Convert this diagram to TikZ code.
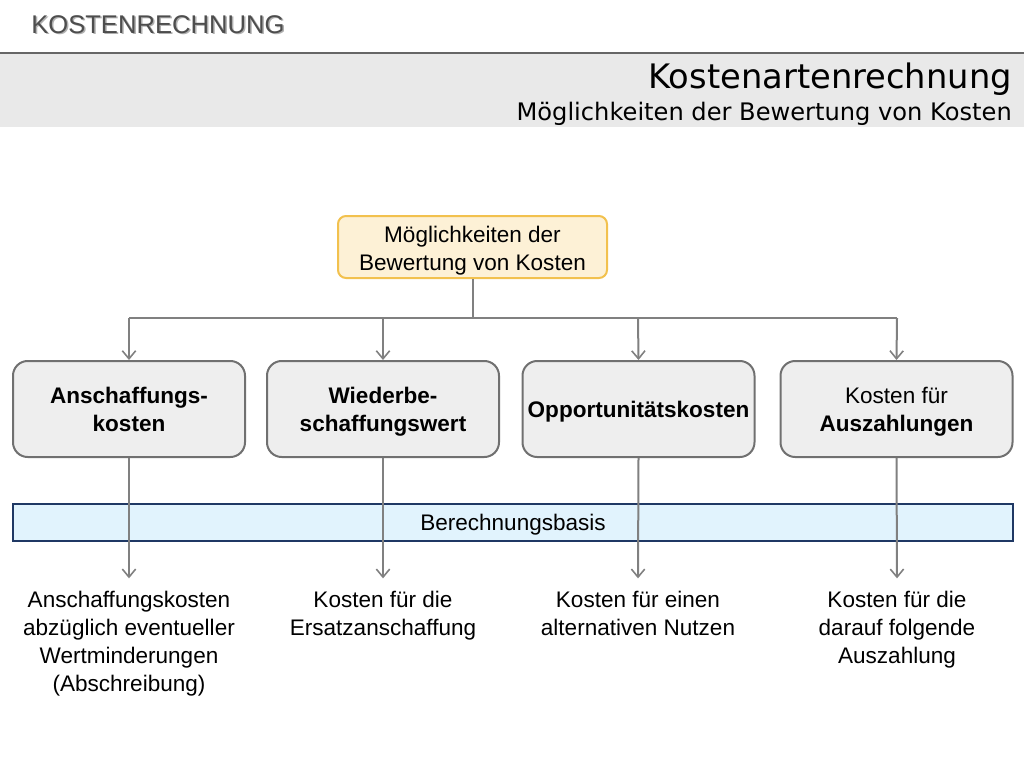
\documentclass[tikz,border=0pt]{standalone}
\usepackage{fontspec}
\setmainfont{Liberation Sans}
\newfontfamily\headfont{DejaVu Sans}
\usetikzlibrary{arrows.meta}
\definecolor{bandgray}{HTML}{E9E9E9}
\definecolor{bandline}{HTML}{666666}
\definecolor{titlegray}{HTML}{4D4D4D}
\definecolor{shadowgray}{HTML}{B0B0B0}
\definecolor{topfill}{HTML}{FDF1D6}
\definecolor{topdraw}{HTML}{F2C14E}
\definecolor{boxfill}{HTML}{EEEEEE}
\definecolor{boxdraw}{HTML}{707070}
\definecolor{barfill}{HTML}{E1F3FD}
\definecolor{bardraw}{HTML}{1F3864}
\definecolor{conn}{HTML}{808080}
\newcommand{\lowcell}[2]{\raisebox{-#1}[\height][\depth]{\begin{tabular}{@{}c@{}}#2\end{tabular}}}
\tikzset{
  txt/.style={font=\fontsize{16.9}{21}\selectfont, align=center, inner sep=0pt},
  topbox/.style={txt, draw=topdraw, fill=topfill, line width=1.5pt, rounded corners=6pt,
    minimum width=201.75pt, minimum height=46.5pt},
  catbox/.style={txt, draw=boxdraw, fill=boxfill, line width=1.5pt, rounded corners=11pt,
    minimum width=174pt, minimum height=72pt},
  conline/.style={draw=conn, line width=1.5pt},
  conarrow/.style={conline, -{Straight Barb[length=6pt,width=10pt,line width=1.2pt]}},
  desc/.style={txt, anchor=north},
}
\begin{document}
\begin{tikzpicture}[x=0.75pt,y=-0.75pt]
\useasboundingbox (0,0) rectangle (1024,768);
% header
\fill[bandgray] (0,53) rectangle (1024,127);
\draw[bandline, line width=1.5pt] (0,53) -- (1024,53);
\node[anchor=base west, inner sep=0pt, text=shadowgray, font=\fontsize{19.2}{22}\selectfont] (titleshadow) at (32.5,34.5) {KOSTENRECHNUNG};
\node[anchor=base west, inner sep=0pt, text=titlegray, font=\fontsize{19.2}{22}\selectfont] (title) at (31,33) {KOSTENRECHNUNG};
\node[anchor=base east, inner sep=0pt, font=\headfont\fontsize{25.3}{28}\selectfont] (h1) at (1012,88) {Kostenartenrechnung};
\node[anchor=base east, inner sep=0pt, font=\headfont\fontsize{18.1}{21}\selectfont] (h2) at (1012,120) {Möglichkeiten der Bewertung von Kosten};
% nodes
\node[topbox] (top) at (472.5,247) {\lowcell{3.2pt}{Möglichkeiten der\\Bewertung von Kosten}};
\node[catbox] (b1) at (129,409) {\lowcell{2.3pt}{\textbf{Anschaffungs-}\\\textbf{kosten}}};
\node[catbox] (b2) at (383,409) {\lowcell{2.3pt}{\textbf{Wiederbe-}\\\textbf{schaffungswert}}};
\node[catbox] (b3) at (638.5,409) {\lowcell{2.3pt}{\textbf{Opportunitätskosten}}};
\node[catbox] (b4) at (896.5,409) {\lowcell{2.3pt}{Kosten für\\\textbf{Auszahlungen}}};
\node[txt, draw=bardraw, fill=barfill, line width=1.2pt, minimum width=750pt, minimum height=27.75pt] (bar) at (513,522.5) {\raisebox{-1.5pt}[\height][\depth]{Berechnungsbasis}};
\node[desc] (d1) at (129,591) {Anschaffungskosten\\abzüglich eventueller\\Wertminderungen\\(Abschreibung)};
\node[desc] (d2) at (383,591) {Kosten für die\\Ersatzanschaffung};
\node[desc] (d3) at (638,591) {Kosten für einen\\alternativen Nutzen};
\node[desc] (d4) at (897,591) {Kosten für die\\darauf folgende\\Auszahlung};
% connectors
\coordinate (hub) at (472.5,318);
\coordinate (l) at (129,318);
\coordinate (r) at (897,318);
\draw[conline] (top.south) -- (hub);
\draw[conline] (l) -- (r);
\draw[conarrow] (l) -- (b1.north);
\draw[conarrow] (383,318) -- (b2.north);
\draw[conarrow] (638,318) -- (b3.north);
\draw[conarrow] (r) -- (b4.north);
\draw[conarrow] (b1.south) -- ([yshift=9.5pt]d1.north);
\draw[conarrow] (b2.south) -- ([yshift=9.5pt]d2.north);
\draw[conarrow] (b3.south) -- ([yshift=9.5pt]d3.north);
\draw[conarrow] (b4.south) -- ([yshift=9.5pt]d4.north);
\end{tikzpicture}
\end{document}
